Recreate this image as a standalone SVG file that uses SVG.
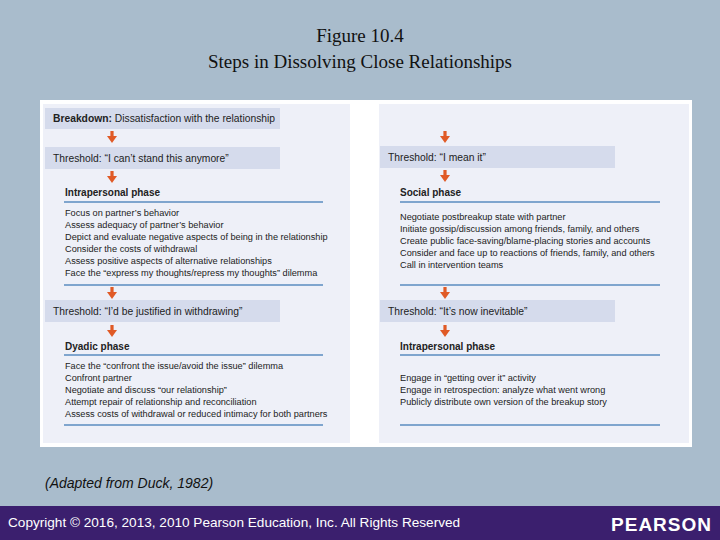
<svg xmlns="http://www.w3.org/2000/svg" width="720" height="540" viewBox="0 0 720 540">
<style>
.t{font-family:"Liberation Serif",serif;font-size:19px;fill:#111;text-anchor:middle}
.b{fill:#d5dbec}
.s{font-family:"Liberation Sans",sans-serif;font-size:9.2px;fill:#222}
.h{font-family:"Liberation Sans",sans-serif;font-size:10.3px;fill:#222}
.hb{font-family:"Liberation Sans",sans-serif;font-size:10px;font-weight:bold;fill:#222}
.ln{stroke:#5a8cc0;stroke-width:1.5}
.ar{fill:#e05a26}
</style>
<defs>
<g id="arr"><rect x="-1.6" y="0" width="3.2" height="6" class="ar"/><polygon points="-5,5 5,5 0,12" class="ar"/></g>
</defs>
<rect width="720" height="540" fill="#a9bccc"/>
<text class="t" x="360" y="42">Figure 10.4</text>
<text class="t" x="360" y="68">Steps in Dissolving Close Relationships</text>
<rect x="40" y="100" width="652" height="347" fill="#fff"/>
<rect x="43" y="104" width="307" height="339" fill="#eef0f8"/>
<rect x="379" y="104" width="310" height="339" fill="#eef0f8"/>
<g id="connectors">
<use href="#arr" x="112" y="131"/><use href="#arr" x="112" y="171"/>
<use href="#arr" x="112" y="287"/><use href="#arr" x="112" y="325"/>
<use href="#arr" x="445" y="131"/><use href="#arr" x="445" y="170"/>
<use href="#arr" x="445" y="287"/><use href="#arr" x="445" y="325"/>
</g>
<g id="breakdown"><rect class="b" x="45" y="108" width="235" height="21"/><text x="53" y="122" class="h"><tspan font-weight="bold">Breakdown:</tspan> Dissatisfaction with the relationship</text></g>
<g id="th1"><rect class="b" x="45" y="147" width="235" height="22"/><text x="53" y="162" class="h">Threshold: “I can’t stand this anymore”</text></g>
<g id="intra1"><text x="65" y="196" class="hb">Intrapersonal phase</text><line class="ln" x1="64" y1="202" x2="323" y2="202"/>
<text class="s" x="65" y="216">Focus on partner’s behavior</text>
<text class="s" x="65" y="228">Assess adequacy of partner’s behavior</text>
<text class="s" x="65" y="240">Depict and evaluate negative aspects of being in the relationship</text>
<text class="s" x="65" y="252">Consider the costs of withdrawal</text>
<text class="s" x="65" y="264">Assess positive aspects of alternative relationships</text>
<text class="s" x="65" y="276">Face the “express my thoughts/repress my thoughts” dilemma</text>
<line class="ln" x1="64" y1="285" x2="323" y2="285"/></g>
<g id="th2"><rect class="b" x="45" y="300" width="235" height="22"/><text x="53" y="315" class="h">Threshold: “I’d be justified in withdrawing”</text></g>
<g id="dyadic"><text x="65" y="350" class="hb">Dyadic phase</text><line class="ln" x1="64" y1="355" x2="323" y2="355"/>
<text class="s" x="65" y="369">Face the “confront the issue/avoid the issue” dilemma</text>
<text class="s" x="65" y="381">Confront partner</text>
<text class="s" x="65" y="393">Negotiate and discuss “our relationship”</text>
<text class="s" x="65" y="405">Attempt repair of relationship and reconciliation</text>
<text class="s" x="65" y="417">Assess costs of withdrawal or reduced intimacy for both partners</text>
<line class="ln" x1="64" y1="425" x2="323" y2="425"/></g>
<g id="th3"><rect class="b" x="380" y="146" width="235" height="22"/><text x="388" y="161" class="h">Threshold: “I mean it”</text></g>
<g id="social"><text x="400" y="196" class="hb">Social phase</text><line class="ln" x1="400" y1="202" x2="660" y2="202"/>
<text class="s" x="400" y="220">Negotiate postbreakup state with partner</text>
<text class="s" x="400" y="232">Initiate gossip/discussion among friends, family, and others</text>
<text class="s" x="400" y="244">Create public face-saving/blame-placing stories and accounts</text>
<text class="s" x="400" y="256">Consider and face up to reactions of friends, family, and others</text>
<text class="s" x="400" y="268">Call in intervention teams</text>
<line class="ln" x1="400" y1="285" x2="660" y2="285"/></g>
<g id="th4"><rect class="b" x="380" y="300" width="235" height="22"/><text x="388" y="315" class="h">Threshold: “It’s now inevitable”</text></g>
<g id="intra2"><text x="400" y="350" class="hb">Intrapersonal phase</text><line class="ln" x1="400" y1="355" x2="660" y2="355"/>
<text class="s" x="400" y="381">Engage in “getting over it” activity</text>
<text class="s" x="400" y="393">Engage in retrospection: analyze what went wrong</text>
<text class="s" x="400" y="405">Publicly distribute own version of the breakup story</text>
<line class="ln" x1="400" y1="425" x2="660" y2="425"/></g>
<text x="45" y="488" font-family="Liberation Sans,sans-serif" font-size="14" font-style="italic" fill="#111">(Adapted from Duck, 1982)</text>
<rect x="0" y="506" width="720" height="34" fill="#3b1f6e"/>
<text x="8" y="527" font-family="Liberation Sans,sans-serif" font-size="13.6" fill="#fff">Copyright © 2016, 2013, 2010 Pearson Education, Inc. All Rights Reserved</text>
<text x="712" y="531" text-anchor="end" font-family="Liberation Sans,sans-serif" font-size="19" font-weight="bold" letter-spacing="1" fill="#fff">PEARSON</text>
</svg>
